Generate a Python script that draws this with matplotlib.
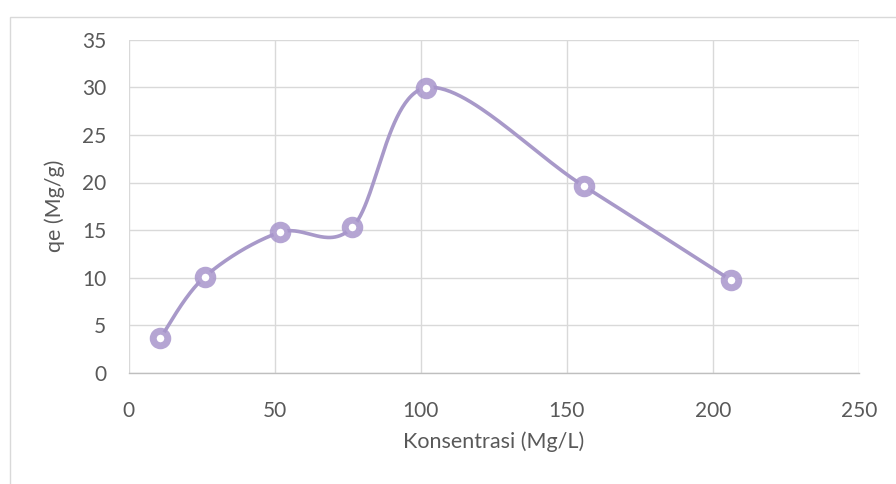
import numpy as np
import matplotlib
matplotlib.use("Agg")
import matplotlib.pyplot as plt
from matplotlib.patches import Rectangle

# Data
konsentrasi = [10.8, 26.1, 51.8, 76.6, 101.7, 155.8, 206.1]
qe = [3.63, 10.1, 14.77, 15.29, 29.95, 19.63, 9.76]
x_ticks = [0, 50, 100, 150, 200, 250]
y_ticks = [0, 5, 10, 15, 20, 25, 30, 35]
x_label = "Konsentrasi (Mg/L)"
y_label = "qe (Mg/g)"

def excel_smooth(xs, ys, n=60):
    xs = np.asarray(xs, float); ys = np.asarray(ys, float)
    P = np.column_stack([xs, ys])
    out = []
    for i in range(len(P) - 1):
        p0 = P[i - 1] if i > 0 else P[i]
        p1 = P[i]; p2 = P[i + 1]
        p3 = P[i + 2] if i + 2 < len(P) else P[i + 1]
        c1 = p1 + (p2 - p0) / 6.0
        c2 = p2 - (p3 - p1) / 6.0
        t = np.linspace(0, 1, n)[:, None]
        seg = ((1 - t) ** 3) * p1 + 3 * ((1 - t) ** 2) * t * c1 + 3 * (1 - t) * t ** 2 * c2 + t ** 3 * p2
        out.append(seg if i == 0 else seg[1:])
    return np.vstack(out)

plt.rcParams['font.family'] = ['Lato', 'DejaVu Sans']

fig = plt.figure(figsize=(8.96, 4.84), dpi=100)
fig.patch.set_facecolor('white')
# outer chart-area border (top & left visible)
fig.patches.append(Rectangle((10 / 896, -0.1), 1.0, 1 - 17 / 484 + 0.1, transform=fig.transFigure,
                             fill=False, edgecolor='#D9D9D9', linewidth=1.0))

ax = fig.add_axes([128.6 / 896, 1 - 372.9 / 484, (858.9 - 128.6) / 896, (372.9 - 39.7) / 484])
ax.set_xlim(0, 250)
ax.set_ylim(0, 35)
ax.set_xticks(x_ticks)
ax.set_yticks(y_ticks)
ax.grid(True, color='#D9D9D9', linewidth=1.0)
ax.set_axisbelow(True)
for s in ['left', 'right', 'top']:
    ax.spines[s].set_visible(False)
ax.spines['bottom'].set_color('#BFBFBF')
ax.spines['bottom'].set_linewidth(1.0)
ax.tick_params(axis='both', length=0, labelsize=15, colors='#595959')
ax.tick_params(axis='x', pad=20)
ax.tick_params(axis='y', pad=16)

curve = excel_smooth(konsentrasi, qe)
col = '#A899C9'
ax.plot(curve[:, 0], curve[:, 1], color=col, linewidth=2.6, solid_capstyle='round', zorder=3)
ax.plot(konsentrasi, qe, linestyle='none', marker='o', markersize=10.5, markerfacecolor='white',
        markeredgecolor=(0.66, 0.59, 0.80, 0.85), markeredgewidth=5, zorder=4, clip_on=False)

ax.set_xlabel(x_label, fontsize=15.5, color='#595959', labelpad=8)
ax.set_ylabel(y_label, fontsize=15.5, color='#595959', labelpad=12)

fig.savefig('out.png', dpi=100)
